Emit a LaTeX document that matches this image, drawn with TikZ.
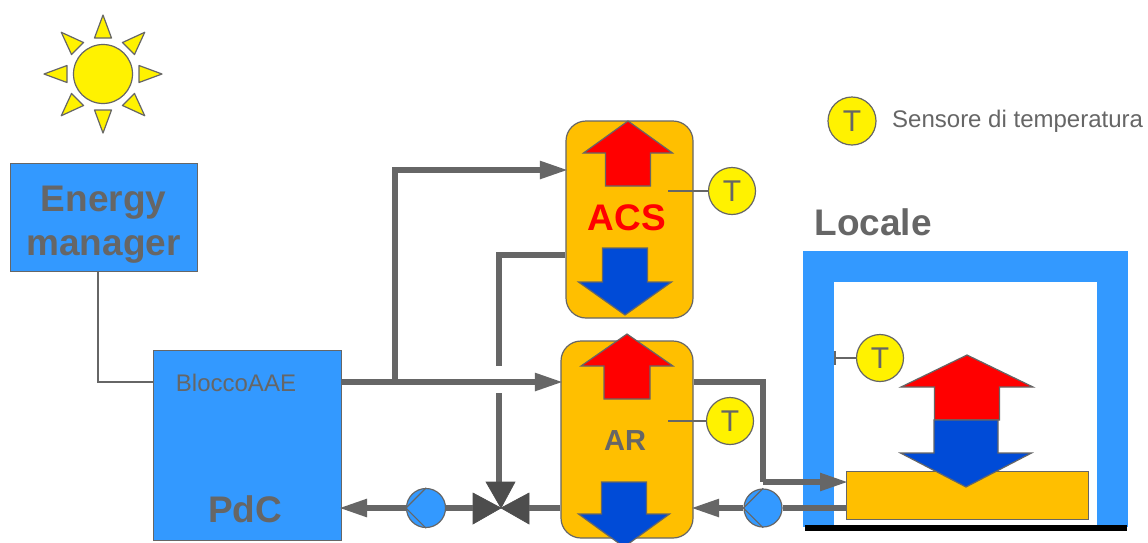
\documentclass[tikz,border=0pt]{standalone}
\usepackage{fontspec}
\setmainfont{Liberation Sans}
\usepackage{xcolor}
\usetikzlibrary{arrows.meta,calc}
\definecolor{wallblue}{RGB}{51,153,255}
\definecolor{tankorange}{RGB}{255,191,0}
\definecolor{coldblue}{RGB}{0,75,215}
\definecolor{pipegray}{RGB}{102,102,102}
\definecolor{valvegray}{RGB}{77,77,77}
\tikzset{
  unit/.style={draw=pipegray,line width=1pt,fill=wallblue,inner sep=0pt},
  tank/.style={draw=pipegray,line width=1.2pt,fill=tankorange,rounded corners=20pt,inner sep=0pt},
  bigtext/.style={text=pipegray,font=\fontsize{37}{44}\selectfont\bfseries,inner sep=0pt},
  pipe/.style={draw=pipegray,line width=5.4pt},
  pipearrow/.style={pipe,shorten >=-2.5pt,-{Triangle[length=28pt,width=17pt]}},
  wire/.style={draw=pipegray,line width=1.2pt},
  sensor/.style={circle,draw=pipegray,line width=1.2pt,fill=yellow,minimum size=47pt,inner sep=0pt,
    text=pipegray,font=\fontsize{30}{30}\selectfont},
  pump/.style={circle,draw=pipegray,line width=1.2pt,fill=wallblue,minimum size=38pt,inner sep=0pt},
  flow/.style={draw=pipegray,line width=1.2pt},
  valvepart/.style={draw=valvegray,fill=valvegray,line width=.6pt}
}
\begin{document}
\begin{tikzpicture}[x=1pt,y=-1pt]
\clip (0,0) rectangle (1148,542);
\fill[white] (0,0) rectangle (1148,542);
% sun
\node[circle,draw=pipegray,line width=1.2pt,fill=yellow,minimum size=59pt,inner sep=0pt] (sun) at (103,74) {};
\foreach \a in {0,45,...,315}{
  \draw[flow,fill=yellow,line join=round,rotate around={\a:(sun.center)}]
    (103+59,74) -- (103+36,74-8.5) -- (103+36,74+8.5) -- cycle;
}
% room
\fill[wallblue] (803,251) rectangle (1128,527);
\fill[white] (834,282) rectangle (1097,527);
\node[bigtext] (locale) at (873,222) {Locale};
\coordinate (floorl) at (805,528);
\coordinate (floorr) at (1127,528);
\draw[line width=5.5pt] (floorl) -- (floorr);
% units
\node[unit,minimum width=187,minimum height=108] (em) at (103.5,217) {};
\node[bigtext,align=center] (emlabel) at (103.5,225) {Energy\\manager};
\node[unit,minimum width=188,minimum height=190] (pdc) at (247,445) {};
\node[text=pipegray,font=\fontsize{24}{24}\selectfont,inner sep=0pt] (aae) at (236,383) {BloccoAAE};
\node[bigtext] (pdclabel) at (245,509) {PdC};
\node[tank,minimum width=127,minimum height=197] (acs) at (629.5,219.5) {};
\node[tank,minimum width=132,minimum height=197] (ar) at (627,439.5) {};
\node[unit,fill=tankorange,minimum width=242,minimum height=48] (rad) at (967,495) {};
\node[bigtext,text=red] (acslabel) at (627,218) {ACS};
\node[bigtext,font=\fontsize{29}{30}\selectfont\bfseries] (arlabel) at (625,441) {AR};
% control wire
\coordinate (emdown) at (98,382);
\draw[wire,line width=2.2pt] (em.south -| emdown) -- (emdown) -- (pdc.west |- emdown);
% pipes
\coordinate (mainy) at (395,382);
\coordinate (acsin) at (395,170);
\coordinate (acsout) at (499,255);
\coordinate (gaptop) at (499,366);
\coordinate (gapbot) at (499,393);
\coordinate (arout) at (763,382);
\coordinate (radin) at (763,482);
\draw[pipearrow] (pdc.east |- mainy) -- (ar.west |- mainy);
\draw[pipearrow] (mainy) -- (acsin) -- (acs.west |- acsin);
\draw[pipe] (acs.west |- acsout) -- (acsout) -- (gaptop);
\draw[pipe] (gapbot) -- (499,490);
\draw[pipe] (ar.east |- arout) -- (arout) -- (radin);
\draw[pipearrow] (radin) -- (rad.west |- radin);
% valve
\coordinate (valve) at (501,508);
\draw[valvepart] (valve) -- (486,482) -- (515,482) -- cycle;
\draw[valvepart] (valve) -- (473,493) -- (473,524) -- cycle;
\draw[valvepart] (valve) -- (529,493) -- (529,524) -- cycle;
% pumps
\node[pump,minimum size=39pt] (pumpa) at (426,508) {};
\node[pump] (pumpb) at (763,508) {};
\draw[pipe] (ar.west |- valve) -- (529,508);
\draw[pipe] (473,508) -- (pumpa.east);
\draw[pipearrow] (pumpa.west) -- (pdc.east |- pumpa);
\draw[pipe] (rad.west |- pumpb) -- (pumpb.east);
\draw[pipearrow] (pumpb.west) -- (ar.east |- pumpb);
\foreach \p in {pumpa,pumpb}{
  \draw[flow] (\p.north) -- (\p.west) -- (\p.south);
}
% heat and cold arrows
\foreach \c/\x/\ty/\hy/\by/\hw/\sw in {
  red/628/121/153/186/44.5/22.5, coldblue/625/315/282/248/46.5/22.5,
  red/627/334/366/399/46/23, coldblue/624/547/514/482/45.5/22.5,
  red/967/355/387/420/66/32.5, coldblue/966/487/453/420/65.5/32}{
  \draw[flow,fill=\c] (\x,\ty) -- (\x+\hw,\hy) -- (\x+\sw,\hy) -- (\x+\sw,\by)
    -- (\x-\sw,\by) -- (\x-\sw,\hy) -- (\x-\hw,\hy) -- cycle;
}
% sensors
\node[sensor] (tacs) at (732,191) {T};
\node[sensor] (tar) at (730,421) {T};
\node[sensor] (troom) at (880,358) {T};
\node[sensor,minimum size=48pt] (tkey) at (852,121) {T};
\coordinate (tacsend) at (668,191);
\coordinate (tarend) at (668,421);
\coordinate (troomend) at (835,358);
\draw[wire] (tacsend) -- (tacs.west);
\draw[wire] (tarend) -- (tar.west);
\draw[wire] (troomend) -- (troom.west);
\draw[wire] (835,351) -- (835,365);
\node[anchor=west,text=pipegray,font=\fontsize{24}{24}\selectfont,inner sep=0pt] (tkeylabel) at (892,121) {Sensore di temperatura};
\end{tikzpicture}
\end{document}
